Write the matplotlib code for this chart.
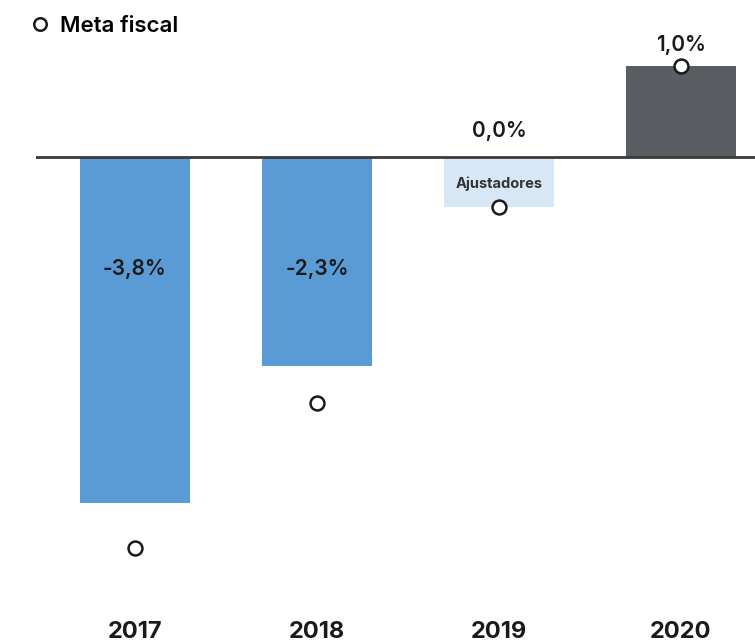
import matplotlib.pyplot as plt
from matplotlib.lines import Line2D

plt.rcParams['font.family'] = ['Inter', 'DejaVu Sans']

# datos
years = ['2017', '2018', '2019', '2020']
resultado = [-3.8, -2.3, 0.0, 1.0]
meta = [-4.3, -2.7, -0.55, 1.0]
etiquetas = ['-3,8%', '-2,3%', '0,0%', '1,0%']

azul = '#5b9bd5'
gris = '#5a5d61'
azul_claro = '#d7e7f6'
colores = [azul, azul, azul_claro, gris]

fig = plt.figure(figsize=(7.55, 6.44), dpi=100)
ax = fig.add_axes([36 / 755, 44 / 644, 719 / 755, 600 / 644])

x = list(range(len(years)))
ancho = 0.6

# barras (2019 = ajustadores, de 0 a la meta)
alturas = [resultado[0], resultado[1], meta[2], resultado[3]]
ax.bar(x, alturas, width=ancho, color=colores, zorder=2)
ax.axhline(0, color='#3a3a3a', lw=2, zorder=3)

# meta fiscal
ax.plot(x, meta, 'o', ms=10, mfc='white', mec='#1a1a1a', mew=1.8, zorder=4, clip_on=False)

# etiquetas de valores
for i, (v, lab) in enumerate(zip(resultado, etiquetas)):
    if v < 0:
        y = -1.23
    elif v == 0:
        y = 0.29
    else:
        y = v + 0.23
    ax.text(i, y, lab, ha='center', va='center', fontsize=15, fontweight='semibold', color='#1a1a1a')

ax.text(2, -0.29, 'Ajustadores', ha='center', va='center', fontsize=10.5, fontweight='bold', color='#333333')

# leyenda
h = Line2D([], [], marker='o', ls='none', ms=9, mfc='white', mec='#1a1a1a', mew=1.8)
fig.legend([h], ['Meta fiscal'], loc='center left', bbox_to_anchor=(28 / 755, 1 - 26 / 644),
           frameon=False, prop={'size': 16, 'weight': 'semibold'}, handletextpad=0.35,
           handlelength=1.1, borderaxespad=0, borderpad=0)

ax.set_xlim(-0.544, 3.407)
ax.set_ylim(-(600 - 157) / 91, 157 / 91)
ax.set_xticks(x)
ax.set_xticklabels(years, fontsize=17, fontweight='bold', color='#1a1a1a')
ax.tick_params(axis='x', length=0, pad=15)
ax.set_yticks([])
for s in ax.spines.values():
    s.set_visible(False)

fig.savefig('out.png', dpi=100)
